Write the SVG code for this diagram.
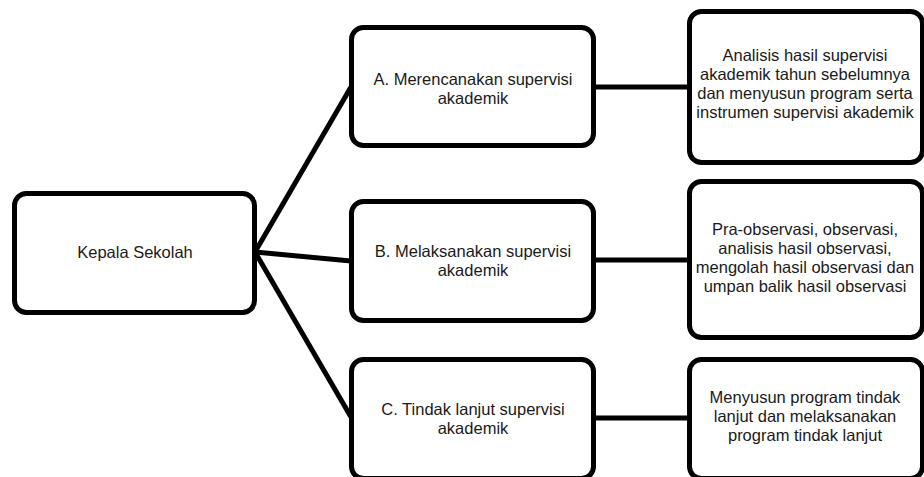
<svg xmlns="http://www.w3.org/2000/svg" width="924" height="477" viewBox="0 0 924 477">
<style>
.box{fill:#fff;stroke:#000;stroke-width:5}
.con{stroke:#000;stroke-width:5;fill:none;stroke-linecap:butt}
text{font-family:"Liberation Sans",Arial,sans-serif;font-size:16.5px;fill:#1a1a1a;text-anchor:middle}
</style>
<rect x="0" y="0" width="924" height="477" fill="#fff"/>
<g id="connectors">
<line class="con" x1="255" y1="252" x2="351" y2="87"/>
<line class="con" x1="255" y1="252" x2="351" y2="261"/>
<line class="con" x1="255" y1="252" x2="351" y2="417"/>
<line class="con" x1="594" y1="87" x2="690" y2="87"/>
<line class="con" x1="594" y1="260" x2="690" y2="260"/>
<line class="con" x1="594" y1="418" x2="690" y2="418"/>
</g>
<g id="kepala">
<rect class="box" x="14.5" y="193.5" width="240" height="119" rx="12"/>
<text x="135" y="258">Kepala Sekolah</text>
</g>
<g id="a">
<rect class="box" x="351.5" y="27.5" width="242" height="118" rx="12"/>
<text x="473" y="85">A. Merencanakan supervisi</text>
<text x="473" y="104">akademik</text>
</g>
<g id="b">
<rect class="box" x="351.5" y="201.5" width="242" height="119" rx="12"/>
<text x="473" y="257">B. Melaksanakan supervisi</text>
<text x="473" y="276">akademik</text>
</g>
<g id="c">
<rect class="box" x="351.5" y="359.5" width="242" height="119" rx="12"/>
<text x="473" y="415">C. Tindak lanjut supervisi</text>
<text x="473" y="434">akademik</text>
</g>
<g id="r1">
<rect class="box" x="689.5" y="11.5" width="233" height="151" rx="12"/>
<text x="805" y="61">Analisis hasil supervisi</text>
<text x="805" y="80">akademik tahun sebelumnya</text>
<text x="805" y="99">dan menyusun program serta</text>
<text x="805" y="118">instrumen supervisi akademik</text>
</g>
<g id="r2">
<rect class="box" x="689.5" y="181.5" width="233" height="156" rx="12"/>
<text x="805" y="235">Pra-observasi, observasi,</text>
<text x="805" y="254">analisis hasil observasi,</text>
<text x="805" y="273">mengolah hasil observasi dan</text>
<text x="805" y="292">umpan balik hasil observasi</text>
</g>
<g id="r3">
<rect class="box" x="689.5" y="359.5" width="233" height="119" rx="12"/>
<text x="805" y="403">Menyusun program tindak</text>
<text x="805" y="422">lanjut dan melaksanakan</text>
<text x="805" y="441">program tindak lanjut</text>
</g>
</svg>
